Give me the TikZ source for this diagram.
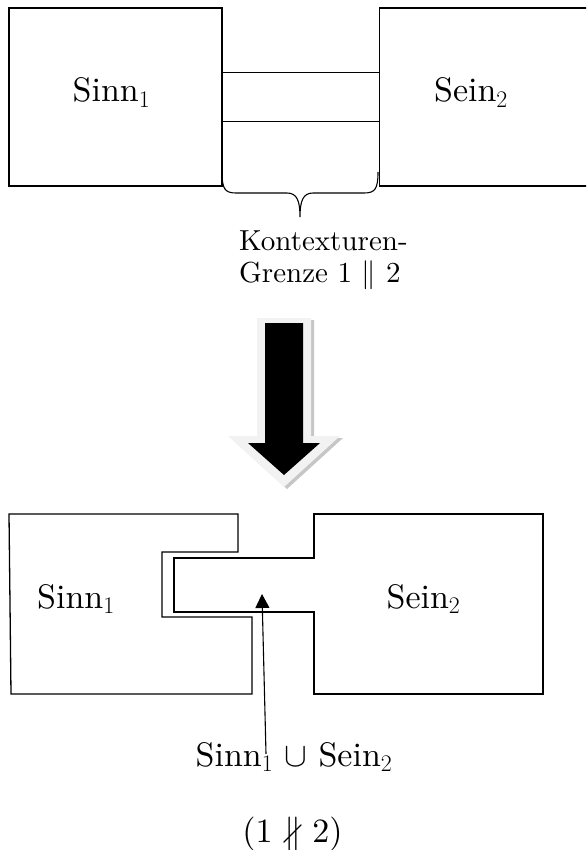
\RequirePackage{fix-cm}
\documentclass[tikz,border=0pt]{standalone}
\usepackage{amssymb}
\usepackage{fontspec}
\setmainfont{lmroman10-regular.otf}
\usepackage{tikz}
\usetikzlibrary{arrows.meta,positioning,calc}

\begin{document}
\begin{tikzpicture}[
    x=1pt, y=-1pt,
    node distance=156pt,
    frame/.style={rectangle, draw=black, line width=1.3pt, minimum width=213pt, minimum height=178pt, inner sep=0pt},
    bigtext/.style={font=\fontsize{34}{40}\selectfont, anchor=base, inner sep=0pt},
    smalltext/.style={font=\fontsize{29}{32}\selectfont, align=left, anchor=north west, inner sep=0pt},
    outline/.style={draw=black, line width=1.3pt},
    pointer/.style={-{Triangle[length=14pt,width=14pt]}, line width=1.1pt}
]
\useasboundingbox (0,0) rectangle (586,850);
\clip (0,0) rectangle (586,850);

\node[frame] (lbox) at (115.5,97) {};
\node[frame, right=of lbox] (rbox) {};
\node[bigtext] (sinnA) at (111.5,102) {Sinn$_1$};
\node[bigtext] (seinA) at (471,102) {Sein$_2$};

\draw[outline] ([yshift=-65pt]lbox.north east) -- ([yshift=-65pt]rbox.north west);
\draw[outline] ([yshift=-114pt]lbox.north east) -- ([yshift=-114pt]rbox.north west);

\draw[outline, line width=1.1pt] (222,172) .. controls (222,189) and (225,193) .. (236,193) -- (287,193)
    .. controls (297,193) and (300,201) .. (300,217) .. controls (300,201) and (303,193) .. (313,193)
    -- (364,193) .. controls (375,193) and (378,189) .. (378,172);
\node[smalltext] (grenze) at (239,230) {Kontexturen-\\Grenze 1 $\Vert$ 2};

\foreach \dx/\dy/\col in {3/2/gray!45, 0/0/gray!10}
    \fill[\col, shift={(\dx,\dy)}] (257,318) -- (311,318) -- (311,436) -- (340,436) -- (284,487) -- (228,436) -- (257,436) -- cycle;
\fill[black] (265,323) -- (303,323) -- (303,443) -- (320,443) -- (284,475) -- (248,443) -- (265,443) -- cycle;

\draw[outline] (9,514) -- (238,514) -- (238,552) -- (162,552) -- (162,617) -- (252,617) -- (252,694) -- (11,694) -- cycle;
\draw[outline] (314,514) -- (543,514) -- (543,694) -- (314,694) -- (314,612) -- (174,612) -- (174,558) -- (314,558) -- cycle;

\node[bigtext] (sinnB) at (76,608) {Sinn$_1$};
\node[bigtext] (seinB) at (423.5,608) {Sein$_2$};
\node[bigtext] (union) at (294,766) {Sinn$_1$ $\cup$ Sein$_2$};
\node[bigtext] (npar) at (292.5,842) {(1 $\nparallel$ 2)};

\coordinate (gap) at (262,594);
\draw[pointer] ([xshift=-28pt,yshift=-12pt]union.north) -- (gap);

\end{tikzpicture}
\end{document}
